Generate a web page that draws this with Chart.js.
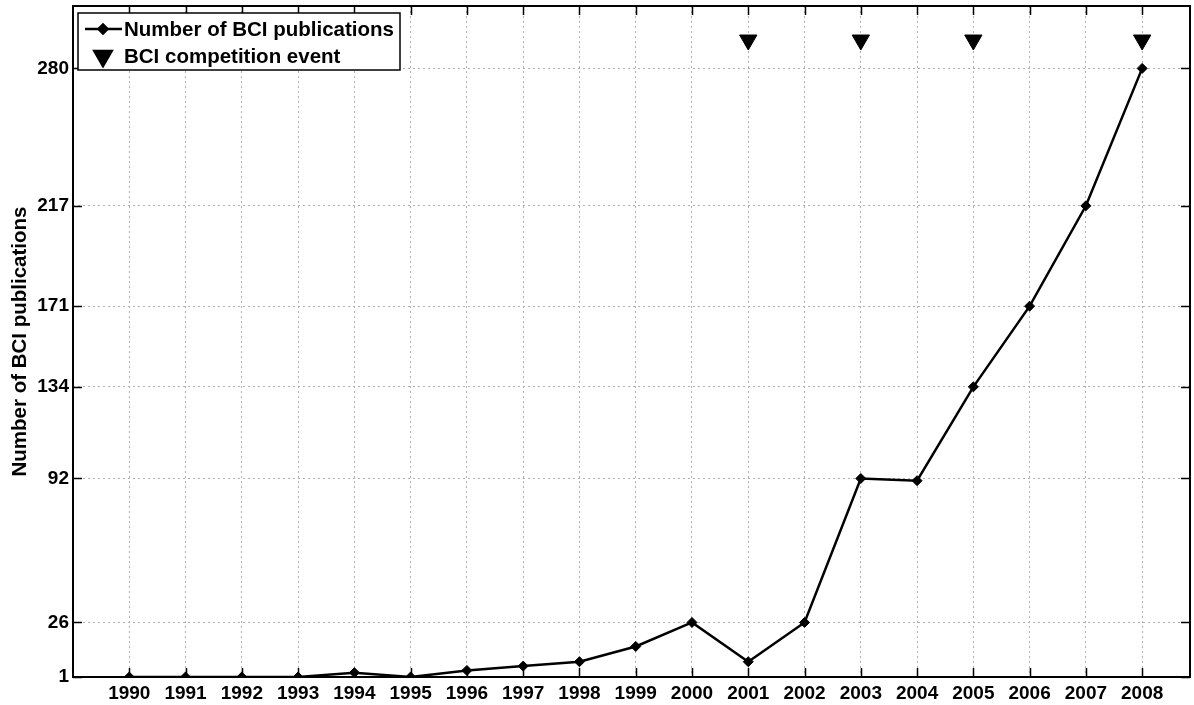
<!DOCTYPE html>
<html>
<head>
<meta charset="utf-8">
<script src="https://cdn.jsdelivr.net/npm/chart.js@4.4.0/dist/chart.umd.min.js"></script>
<style>
  html, body { margin: 0; padding: 0; background: #fff; }
  #wrap { width: 1194px; height: 705px; }
</style>
</head>
<body>
<div id="wrap"><canvas id="mycanvas" width="1194" height="705"></canvas></div>
<script>
// data
const YEARS = [1990, 1991, 1992, 1993, 1994, 1995, 1996, 1997, 1998, 1999,
               2000, 2001, 2002, 2003, 2004, 2005, 2006, 2007, 2008];
const PUBLICATIONS = [1, 1, 1, 1, 3, 1, 4, 6, 8, 15, 26, 8, 26, 92, 91, 134, 171, 217, 280];
const COMPETITION_YEARS = [2001, 2003, 2005, 2008];
const COMPETITION_LEVEL = 293;
const Y_TICKS = [1, 26, 92, 134, 171, 217, 280];

const FONT = '"Liberation Sans", Arial, Helvetica, sans-serif';
Chart.defaults.font.family = FONT;
Chart.defaults.color = '#000';

// no extra room for half tick labels, the box is placed by hand
const noPadding = () => ({left: 0, top: 0, right: 0, bottom: 0});

// matlab style box, inward ticks and legend
const matlabAxes = {
  id: 'matlabAxes',
  beforeDatasetsDraw(chart) {
    const ctx = chart.ctx;
    const a = chart.chartArea;
    const xs = chart.scales.x, ys = chart.scales.y;
    ctx.save();
    ctx.strokeStyle = '#000';
    ctx.lineWidth = 1.5;
    ctx.beginPath();
    YEARS.forEach(v => {
      const px = Math.round(xs.getPixelForValue(v)) + 0.5;
      ctx.moveTo(px, a.bottom); ctx.lineTo(px, a.bottom - 9);
      ctx.moveTo(px, a.top); ctx.lineTo(px, a.top + 9);
    });
    Y_TICKS.forEach(v => {
      const py = Math.round(ys.getPixelForValue(v)) + 0.5;
      ctx.moveTo(a.left, py); ctx.lineTo(a.left + 9, py);
      ctx.moveTo(a.right, py); ctx.lineTo(a.right - 9, py);
    });
    ctx.stroke();
    ctx.lineWidth = 2;
    ctx.strokeRect(a.left, a.top, a.right - a.left, a.bottom - a.top);
    ctx.restore();
  },
  afterDraw(chart) {
    const ctx = chart.ctx;
    const a = chart.chartArea;
    const ds = chart.data.datasets;
    const bx = a.left + 5, by = a.top + 7;
    ctx.save();
    ctx.fillStyle = '#fff';
    ctx.fillRect(bx, by, 322, 57);
    ctx.strokeStyle = '#000';
    ctx.lineWidth = 1.5;
    ctx.strokeRect(bx, by, 322, 57);

    // line sample
    ctx.lineWidth = 2.5;
    ctx.beginPath();
    ctx.moveTo(bx + 7, by + 16); ctx.lineTo(bx + 44, by + 16);
    ctx.stroke();
    ctx.fillStyle = '#000';
    Chart.helpers.drawPoint(ctx, {pointStyle: 'rectRot', radius: 4.5, rotation: 0, borderWidth: 1}, bx + 25, by + 16);
    ctx.fill();
    Chart.helpers.drawPoint(ctx, {pointStyle: 'triangle', radius: 10, rotation: 180, borderWidth: 1}, bx + 25, by + 43);
    ctx.fill();

    ctx.font = 'bold 20.5px ' + FONT;
    ctx.textBaseline = 'middle';
    ctx.textAlign = 'left';
    ctx.fillText(ds[0].label, bx + 46, by + 17);
    ctx.fillText(ds[1].label, bx + 46, by + 44);
    ctx.restore();
  }
};

const ctx = document.getElementById('mycanvas').getContext('2d');
window.chart = new Chart(ctx, {
  type: 'scatter',
  data: {
    datasets: [{
      label: 'Number of BCI publications',
      data: YEARS.map((y, i) => ({x: y, y: PUBLICATIONS[i]})),
      showLine: true,
      borderColor: '#000',
      backgroundColor: '#000',
      borderWidth: 2.5,
      pointStyle: 'rectRot',
      pointRadius: 5,
      pointBorderWidth: 1
    }, {
      label: 'BCI competition event',
      data: COMPETITION_YEARS.map(y => ({x: y, y: COMPETITION_LEVEL})),
      showLine: false,
      borderColor: '#000',
      backgroundColor: '#000',
      pointStyle: 'triangle',
      rotation: 180,
      pointRadius: 10,
      pointBorderWidth: 1
    }]
  },
  options: {
    responsive: false,
    animation: false,
    devicePixelRatio: 1,
    layout: { autoPadding: false, padding: { top: 6, right: 4, left: 0, bottom: 0 } },
    plugins: {
      legend: { display: false },
      tooltip: { enabled: false }
    },
    scales: {
      x: {
        type: 'linear',
        min: 1989,
        max: 2008.85,
        afterBuildTicks: s => { s.ticks = YEARS.map(v => ({value: v})); },
        afterFit: s => { s.height = 28; s.getPadding = noPadding; },
        ticks: {
          font: { size: 19, weight: 'bold' },
          color: '#000',
          padding: 5,
          maxRotation: 0,
          autoSkip: false,
          callback: v => String(v)
        },
        grid: { color: '#b0b0b0', lineWidth: 1, drawTicks: false },
        border: { display: false, dash: [2, 3] }
      },
      y: {
        type: 'linear',
        min: 1,
        max: 308.6,
        afterBuildTicks: s => { s.ticks = Y_TICKS.map(v => ({value: v})); },
        afterFit: s => { s.width = 73; s.getPadding = noPadding; },
        ticks: {
          font: { size: 19, weight: 'bold' },
          color: '#000',
          padding: 4,
          autoSkip: false,
          callback: v => String(v)
        },
        grid: { color: '#b0b0b0', lineWidth: 1, drawTicks: false },
        border: { display: false, dash: [2, 3] },
        title: {
          display: true,
          text: 'Number of BCI publications',
          font: { size: 20.5, weight: 'bold' },
          color: '#000',
          padding: { top: 8, bottom: 0 }
        }
      }
    }
  },
  plugins: [matlabAxes]
});
</script>
</body>
</html>
